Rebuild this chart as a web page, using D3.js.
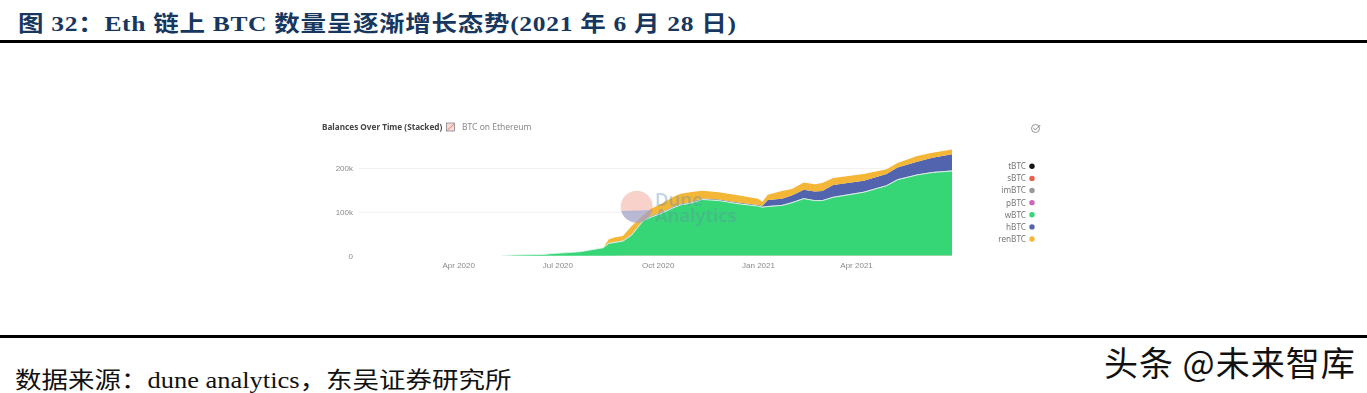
<!DOCTYPE html>
<html>
<head>
<meta charset="utf-8">
<script src="https://cdn.jsdelivr.net/npm/d3@7"></script>
<style>
  html, body { margin: 0; padding: 0; background: #fff; overflow: hidden; }
  svg { display: block; }
  .doc { font-family: "Liberation Serif", "Noto Sans CJK SC", serif; }
  .ui { font-family: "Noto Sans", sans-serif; }
</style>
</head>
<body>
<div id="vis"></div>
<script>
// Stacked BTC balances on Ethereum (thousands of BTC).

const DATES = [
  "2020-05-11","2020-05-22","2020-06-18","2020-06-27","2020-07-04","2020-07-22","2020-07-31","2020-08-12",
  "2020-08-17","2020-08-22","2020-08-30","2020-09-07","2020-09-18","2020-09-25","2020-10-04","2020-10-16",
  "2020-10-22","2020-11-01","2020-11-11","2020-11-26","2020-12-15","2021-01-01","2021-01-05","2021-01-10",
  "2021-01-23","2021-02-01","2021-02-12","2021-02-22","2021-03-01","2021-03-11","2021-04-08","2021-04-29",
  "2021-05-09","2021-05-27","2021-06-10","2021-06-28"
];

const TBTC = [0,0,0,0,0,0,0,0,0,0, .1,.1,.1,.1,.1,.1,.1,.1,.1,.1,.1,.1,.1,.1,.1,.1,.1,.1,.1,.1,.1,.1,.1,.1,.1,.1];
const SBTC = [0,0,0,0,0,0,0,0,0,0, .4,.4,.4,.4,.4,.4,.4,.4,.4,.4,.4,.4,.4,.4,.4,.4,.4,.4,.4,.4,.4,.4,.4,.4,.4,.4];
const PBTC = [0,0,0,0,0,0,0,0,0,0, 0,0,0,0,0,0,0,0,0,0,0,0,0,0,0,0,0,0,0,0,0,0,0,0,0,0];
const WBTC = [0,1.5,3,5,6,9,13,18,28,30, 32.5,46,80,87.5,95.5,109.5,115,119.5,127.5,125,117.5,112.5,110,111.5,114,120,129.5,125,125,132.5,144,159,172.5,183.5,189,192.5];
const IMBTC = [0,0,0,0,0,0,0,0,.5,.5, 1,1,1,1,1,1,1,1,1,1,1,1,1,1,1,1,1,1,1,1,1,1,1,1,1,1];
const HBTC = [0,0,0,0,0,0,0,0,0,.5, .5,1,1,1.5,1.5,1.5,1.5,1.5,1.5,1.5,1.5,1.5,2.4,14,14.2,15.5,19.5,20,21,27,25.5,25.4,27,29,32.4,37];
const RENBTC = [0,0,0,0,0,0,0,0,8.5,10.5, 10.5,18.5,10.5,16.5,19.5,22.5,23,22.5,17.5,16.5,16.5,14,9,12,17.4,15,16.5,16.3,18,16,15,11,10,13,11.8,11];

const SERIES = ["tBTC","sBTC","pBTC","wBTC","imBTC","hBTC","renBTC"];
const VALUES = [TBTC,SBTC,PBTC,WBTC,IMBTC,HBTC,RENBTC];
const COLORS = { tBTC:"#151515", sBTC:"#e8604c", imBTC:"#9a9a9a", pBTC:"#c968b8", wBTC:"#36d576", hBTC:"#5364ae", renBTC:"#f3b636" };

const LEGEND = ["tBTC","sBTC","imBTC","pBTC","wBTC","hBTC","renBTC"];
const Y_TICKS = [0,100,200];
const X_TICKS = ["2020-04-01","2020-07-01","2020-10-01","2021-01-01","2021-04-01"];

const W = 1367, H = 393;
const parseDate = d3.utcParse("%Y-%m-%d");

const svg = d3.select("#vis").append("svg").attr("width", W).attr("height", H);

// ── Document frame ───────────────────────────────────────────────────────────

svg.append("text").attr("class", "doc")
  .attr("transform", "translate(18,31) scale(1.16,1)")
  .attr("fill", "#17375e").attr("font-weight", "bold").attr("font-size", 22)
  .attr("letter-spacing", 0.6)
  .text("图 32：Eth 链上 BTC 数量呈逐渐增长态势(2021 年 6 月 28 日)");

svg.selectAll("line.rule").data([41.5, 336.5]).join("line").attr("class", "rule")
  .attr("x1", 0).attr("x2", W).attr("y1", d => d).attr("y2", d => d)
  .attr("stroke", "#000").attr("stroke-width", 3);

svg.append("text").attr("class", "doc")
  .attr("transform", "translate(15,388) scale(1.152,1)")
  .attr("fill", "#111").attr("font-size", 23)
  .text("数据来源：dune analytics，东吴证券研究所");

svg.append("text")
  .attr("x", 1104).attr("y", 376)
  .attr("font-family", "'Noto Sans CJK SC', sans-serif").attr("font-size", 34).attr("font-weight", 400)
  .attr("letter-spacing", 1).attr("fill", "#111")
  .text("头条 @未来智库");

// ── Chart ────────────────────────────────────────────────────────────────────

const x = d3.scaleUtc()
  .domain([parseDate("2020-01-01"), parseDate("2021-06-28")]).range([359, 952]);
const y = d3.scaleLinear().domain([0, 200]).range([255.7, 167.9]);

const rows = DATES.map((d, i) => {
  const row = { date: parseDate(d) };
  SERIES.forEach((s, k) => { row[s] = VALUES[k][i]; });
  return row;
});

const stacked = d3.stack().keys(SERIES)(rows);

const chart = svg.append("g").attr("class", "ui").style("filter", "blur(0.55px)");

chart.append("g")
  .call(d3.axisLeft(y).tickValues(Y_TICKS).tickSize(0).tickPadding(4).tickFormat(d => d ? d + "k" : "0"))
  .attr("transform", "translate(359,0)")
  .call(ax => ax.select(".domain").remove())
  .call(ax => ax.selectAll(".tick").filter(d => d > 0).append("line")
    .attr("x1", 0).attr("x2", 593).attr("stroke", "#f1f1f1"))
  .call(ax => ax.selectAll("text").attr("fill", "#8a8a8a").attr("font-size", 8).attr("x", -6));

chart.append("g")
  .attr("transform", "translate(0,266)")
  .call(d3.axisBottom(x).tickValues(X_TICKS.map(parseDate)).tickSize(0).tickPadding(0).tickFormat(d3.utcFormat("%b %Y")))
  .call(ax => ax.select(".domain").remove())
  .call(ax => ax.selectAll("text").attr("fill", "#8a8a8a").attr("font-size", 8).attr("dy", "0.3em"));

const area = d3.area().x(d => x(d.data.date)).y0(d => y(d[0])).y1(d => y(d[1]));

chart.append("g").selectAll("path").data(stacked).join("path")
  .attr("d", area).attr("fill", d => COLORS[d.key]);

// light edge along the top of wBTC
const wTop = stacked.find(s => s.key === "wBTC");
chart.append("path")
  .attr("d", d3.line().x(d => x(d.data.date)).y(d => y(d[1]))(wTop))
  .attr("fill", "none").attr("stroke", "#dff5ea").attr("stroke-width", 0.9);

// Dune watermark
const mark = chart.append("g").attr("transform", "translate(636.7,206.7)");
mark.append("circle").attr("r", 16).attr("fill", "#eb7f6e").attr("opacity", 0.36);
const chordA = { x: -15.4, y: 4.4 }, chordB = { x: 15.6, y: 3.4 };
mark.append("path")
  .attr("d", `M${chordA.x},${chordA.y} A16,16 0 0 0 ${chordB.x},${chordB.y} Z`)
  .attr("fill", "#8fa8dc").attr("opacity", 0.6);

chart.selectAll("text.dune").data([["Dune", 206], ["Analytics", 222]]).join("text").attr("class", "dune")
  .attr("x", 655).attr("y", d => d[1])
  .attr("font-size", 18.5).attr("font-weight", 600).attr("fill", "#5f8fa8").attr("opacity", 0.36)
  .text(d => d[0]);

// Header row
chart.append("text").attr("x", 322).attr("y", 130)
  .attr("font-size", 8.2).attr("font-weight", 700).attr("fill", "#444")
  .text("Balances Over Time (Stacked)");
chart.append("rect").attr("x", 446.5).attr("y", 123).attr("width", 8).attr("height", 8)
  .attr("fill", "#f7dcd8").attr("stroke", "#777").attr("stroke-width", 0.7);
chart.append("line").attr("x1", 447.5).attr("y1", 130).attr("x2", 454).attr("y2", 124)
  .attr("stroke", "#e8604c").attr("stroke-width", 0.8);
chart.append("text").attr("x", 462).attr("y", 130)
  .attr("font-size", 8.5).attr("fill", "#888").text("BTC on Ethereum");

// Check icon
chart.append("circle").attr("cx", 1035.5).attr("cy", 128.5).attr("r", 4)
  .attr("fill", "none").attr("stroke", "#888").attr("stroke-width", 0.9);
chart.append("path").attr("d", "M1033.5,128 l1.8,2 l5,-5")
  .attr("fill", "none").attr("stroke", "#777").attr("stroke-width", 0.9);

// Legend
const ly = d3.scalePoint().domain(LEGEND).range([166.3, 239]);
const li = chart.append("g").selectAll("g").data(LEGEND).join("g")
  .attr("transform", d => `translate(1032,${ly(d)})`);
li.append("circle").attr("r", 2.7).attr("fill", d => COLORS[d]);
li.append("text").attr("x", -6).attr("dy", "0.35em").attr("text-anchor", "end")
  .attr("font-size", 8.2).attr("fill", "#777").text(d => d);
</script>
</body>
</html>
